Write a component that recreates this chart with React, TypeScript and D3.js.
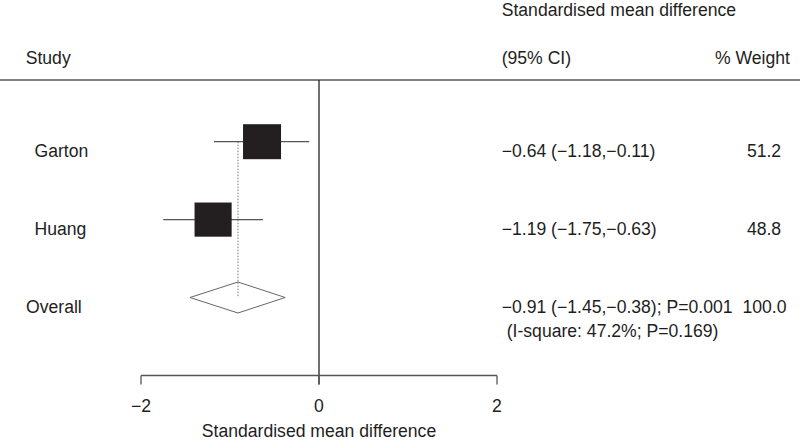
import * as d3 from "d3";

const studies = ["Garton", "Huang"];
const estimates = [-0.64, -1.19];
const lower = [-1.18, -1.75];
const upper = [-0.11, -0.63];
const weights = [51.2, 48.8];
const ciLabels = ["\u22120.64 (\u22121.18,\u22120.11)", "\u22121.19 (\u22121.75,\u22120.63)"];
const weightLabels = ["51.2", "48.8"];

const overall = { label: "Overall", est: -0.91, lo: -1.45, hi: -0.38 };
const overallText = "\u22120.91 (\u22121.45,\u22120.38); P=0.001";
const overallWeight = "100.0";
const heterogeneity = "(I-square: 47.2%; P=0.169)";

const xTicks = [-2, 0, 2];
const tickLabels = ["\u22122", "0", "2"];

export default function App() {
  const width = 800;
  const height = 441;
  const font = "'Liberation Sans', Arial, Helvetica, sans-serif";
  const fs = 17.6;
  const textColor = "#1e1e1e";

  const x = d3.scaleLinear().domain([-2, 2]).range([141, 497]);
  const rowY = d3.scaleLinear().domain([0, 1]).range([141.7, 219.6]);
  const overallY = rowY(2);
  const axisY = 375.5;
  const side = d3.scaleSqrt().domain([0, 51.2]).range([0, 38]);
  const aspect = 35 / 38;
  const textDy = 15.5;

  const diamond = d3.line<[number, number]>()([
    [x(overall.lo), overallY],
    [x(overall.est), overallY - 15.5],
    [x(overall.hi), overallY],
    [x(overall.est), overallY + 15.5],
    [x(overall.lo), overallY],
  ]);

  return (
    <div style={{ position: "absolute", left: 0, top: 0 }}>
      <svg width={width} height={height} style={{ display: "block", background: "#fff" }} fontFamily={font}>
        {/* header */}
        <text x={25.7} y={64} fontSize={fs} fill={textColor}>Study</text>
        <text x={501.7} y={16} fontSize={fs} fill={textColor}>Standardised mean difference</text>
        <text x={501.7} y={64} fontSize={fs} fill={textColor}>(95% CI)</text>
        <text x={790} y={64} fontSize={fs} fill={textColor} textAnchor="end">% Weight</text>
        <line x1={0} x2={width} y1={80} y2={80} stroke="#555" strokeWidth={1.3} />

        {/* null line */}
        <line x1={x(0)} x2={x(0)} y1={80} y2={axisY + 9} stroke="#333" strokeWidth={1.4} />

        {/* overall estimate dotted line */}
        <line
          x1={x(overall.est)}
          x2={x(overall.est)}
          y1={rowY(0)}
          y2={overallY}
          stroke="#666"
          strokeWidth={0.9}
          strokeDasharray="1.5 1.5"
        />

        {studies.map((s, i) => {
          const w = side(weights[i]);
          const h = w * aspect;
          const cy = rowY(i);
          return (
            <g key={s}>
              <line x1={x(lower[i])} x2={x(upper[i])} y1={cy} y2={cy} stroke="#555" strokeWidth={1.3} />
              <rect x={x(estimates[i]) - w / 2} y={cy - h / 2} width={w} height={h} fill="#231f20" />
              <text x={34.5} y={cy + textDy} fontSize={fs} fill={textColor}>{s}</text>
              <text x={501.7} y={cy + textDy} fontSize={fs} fill={textColor}>{ciLabels[i]}</text>
              <text x={764} y={cy + textDy} fontSize={fs} fill={textColor} textAnchor="middle">{weightLabels[i]}</text>
            </g>
          );
        })}

        {/* overall */}
        {diamond && <path d={diamond} fill="none" stroke="#666" strokeWidth={1} />}
        <text x={26} y={overallY + textDy} fontSize={fs} fill={textColor}>{overall.label}</text>
        <text x={501.7} y={overallY + textDy} fontSize={fs} fill={textColor}>{overallText}</text>
        <text x={764.5} y={overallY + textDy} fontSize={fs} fill={textColor} textAnchor="middle">{overallWeight}</text>
        <text x={506.7} y={overallY + textDy + 24} fontSize={fs} fill={textColor}>{heterogeneity}</text>

        {/* axis */}
        <line x1={x(-2)} x2={x(2)} y1={axisY} y2={axisY} stroke="#555" strokeWidth={1.3} />
        {xTicks.map((t, i) => (
          <g key={t}>
            <line x1={x(t)} x2={x(t)} y1={axisY} y2={axisY + 9} stroke="#555" strokeWidth={1.3} />
            <text x={x(t)} y={412} fontSize={fs} fill={textColor} textAnchor="middle">{tickLabels[i]}</text>
          </g>
        ))}
        <text x={x(0)} y={436.5} fontSize={fs} fill={textColor} textAnchor="middle">Standardised mean difference</text>
      </svg>
    </div>
  );
}
